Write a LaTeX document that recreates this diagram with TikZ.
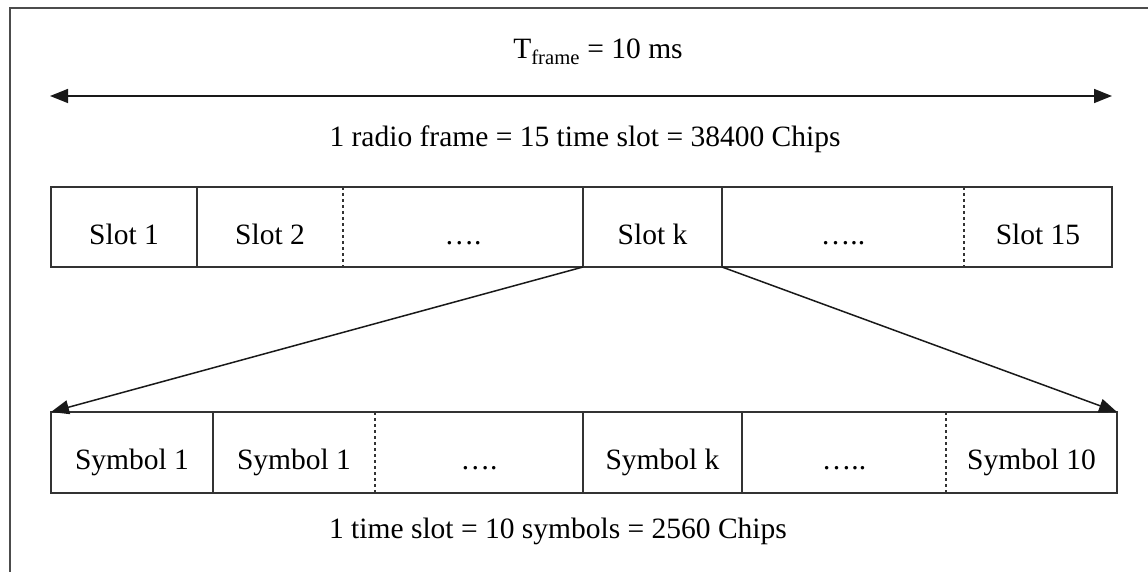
\documentclass[tikz,border=0pt]{standalone}
\usepackage{fontspec}
\setmainfont{Liberation Serif}
\usetikzlibrary{positioning,arrows.meta}

\begin{document}
\begin{tikzpicture}[x=1pt, y=-1pt, node distance=0pt,
    every node/.style={font=\fontsize{29.5}{34}\selectfont, inner sep=0pt, outer sep=0pt},
    >={Triangle[length=18pt,width=14pt]},
    cell/.style={minimum height=80pt, anchor=west, text height=37pt, text depth=3pt},
    symcell/.style={minimum height=81pt, anchor=west, text height=37pt, text depth=3pt},
    box/.style={draw=black!80, line width=1.5pt},
    link/.style={line width=1.5pt, black!90}]
    \useasboundingbox (0,0) rectangle (1148,572);

    % outer frame (open to the right and below)
    \draw[draw=black!70, line width=2pt] (10,572) -- (10,8) -- (1148,8);

    % frame duration
    \node (tframe) at (598,52) {T\textsubscript{frame} = 10 ms};
    \coordinate (frameL) at (50,96);
    \coordinate (frameR) at (1112,96);
    \draw[link, <->] (frameL) -- (frameR);
    \node (radio) at (585,139) {1 radio frame = 15 time slot = 38400 Chips};

    % slot row
    \node (slot1) [cell, minimum width=146pt] at (51,227) {Slot 1};
    \node (slot2) [cell, minimum width=146pt, right=of slot1] {Slot 2};
    \node (dots1) [cell, minimum width=240pt, right=of slot2] {….};
    \node (slotk) [cell, minimum width=139pt, right=of dots1] {Slot k};
    \node (dots2) [cell, minimum width=242pt, right=of slotk] {…..};
    \node (slot15) [cell, minimum width=148pt, right=of dots2] {Slot 15};
    \draw[box] (slot1.north west) rectangle (slot15.south east);
    \draw[box] (slot1.north east) -- (slot1.south east);
    \draw[box, dashed] (slot2.north east) -- (slot2.south east);
    \draw[box] (dots1.north east) -- (dots1.south east);
    \draw[box] (slotk.north east) -- (slotk.south east);
    \draw[box, dashed] (dots2.north east) -- (dots2.south east);

    % symbol row
    \node (sym1) [symcell, minimum width=162pt] at (51,452.5) {Symbol 1};
    \node (sym2) [symcell, minimum width=162pt, right=of sym1] {Symbol 1};
    \node (dots3) [symcell, minimum width=208pt, right=of sym2] {….};
    \node (symk) [symcell, minimum width=159pt, right=of dots3] {Symbol k};
    \node (dots4) [symcell, minimum width=204pt, right=of symk] {…..};
    \node (sym10) [symcell, minimum width=171pt, right=of dots4] {Symbol 10};
    \draw[box] (sym1.north west) rectangle (sym10.south east);
    \draw[box] (sym1.north east) -- (sym1.south east);
    \draw[box, dashed] (sym2.north east) -- (sym2.south east);
    \draw[box] (dots3.north east) -- (dots3.south east);
    \draw[box] (symk.north east) -- (symk.south east);
    \draw[box, dashed] (dots4.north east) -- (dots4.south east);

    % expansion of slot k
    \draw[link, ->] (slotk.south west) -- (sym1.north west);
    \draw[link, ->] (slotk.south east) -- (sym10.north east);

    \node (slotinfo) at (558,531) {1 time slot = 10 symbols = 2560 Chips};
\end{tikzpicture}
\end{document}
